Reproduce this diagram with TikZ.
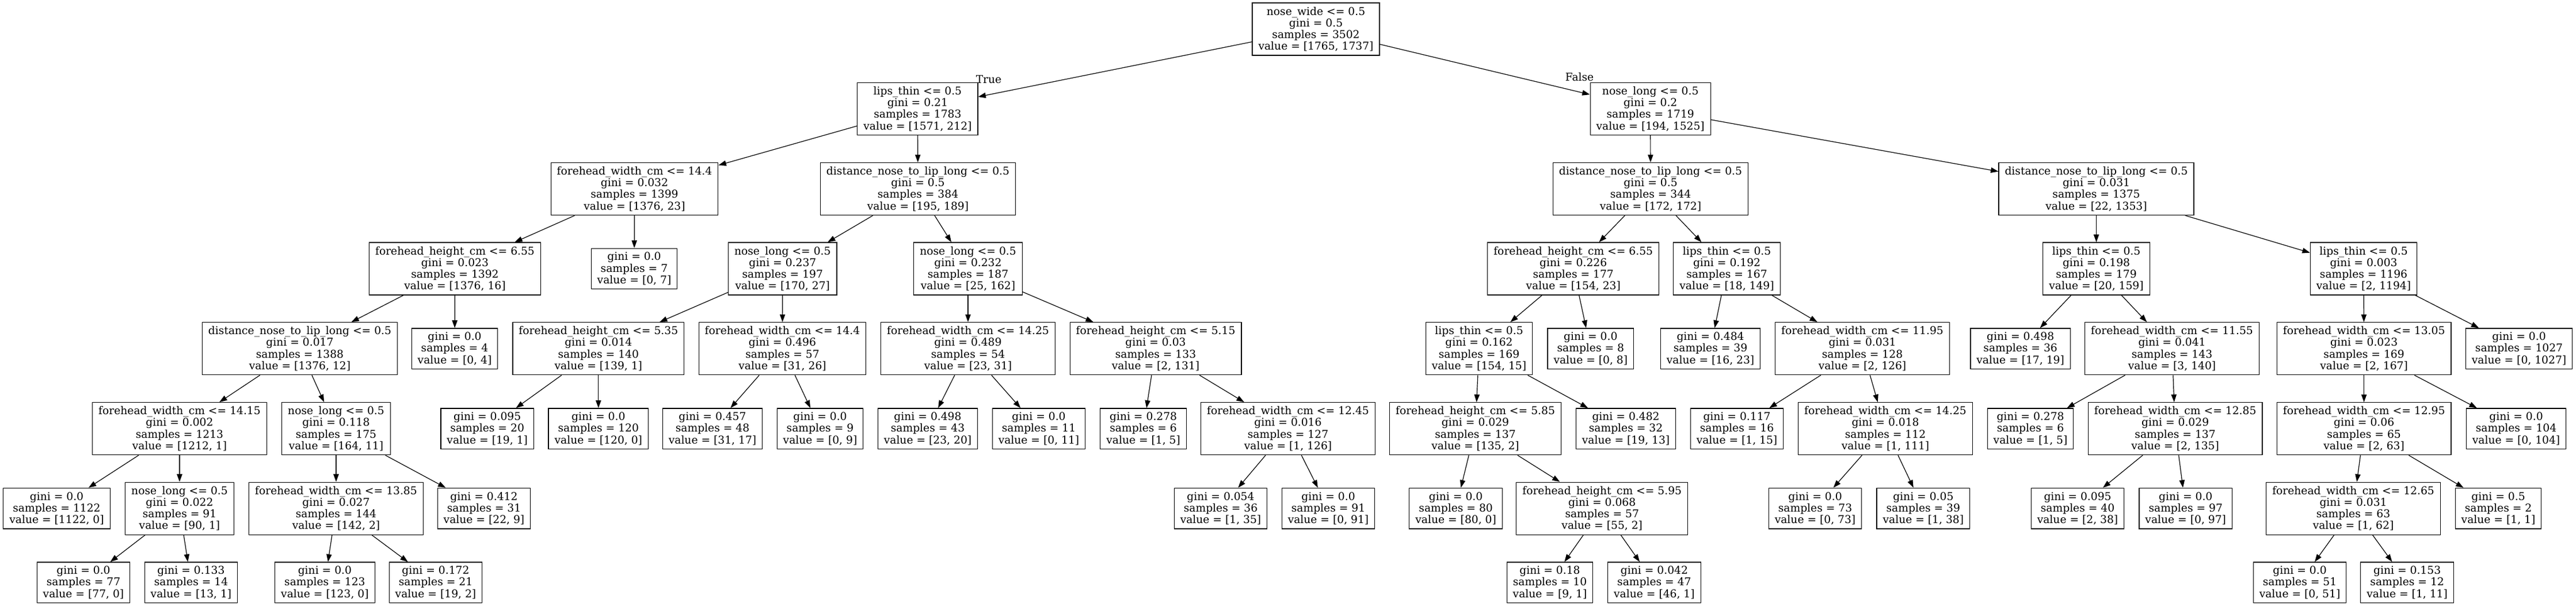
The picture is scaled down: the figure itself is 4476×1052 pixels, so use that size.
\documentclass[tikz,border=0pt]{standalone}
\usepackage{fontspec}
\setmainfont{DejaVu Serif}
\usetikzlibrary{arrows.meta}
\tikzset{
  tnode/.style={draw=black, line width=1.2pt, rectangle, align=center, inner xsep=10.5pt, inner ysep=0pt,
    font=\fontsize{18.7}{20.2}\selectfont},
  split/.style={tnode, minimum height=91pt},
  leaf/.style={tnode, minimum height=70.6pt},
  edge/.style={draw=black, line width=1.2pt, -{Triangle[length=13.3pt,width=9.3pt]}},
  lbl/.style={inner sep=0pt, font=\fontsize{18.7}{20.2}\selectfont}
}
\begin{document}
\begin{tikzpicture}[x=1pt,y=-1pt]
\fill[white] (0,0) rectangle (4476,1052);
\useasboundingbox (0,0) rectangle (4476,1052);
% level 0
\node[split] (r) at (2286.5,50.5) {nose\_wide <= 0.5\\gini = 0.5\\samples = 3502\\value = [1765, 1737]};
% level 1
\node[split] (a) at (1594.4,189) {lips\_thin <= 0.5\\gini = 0.21\\samples = 1783\\value = [1571, 212]};
\node[split] (b) at (2867.7,189) {nose\_long <= 0.5\\gini = 0.2\\samples = 1719\\value = [194, 1525]};
% level 2
\node[split] (aa) at (1102.5,328) {forehead\_width\_cm <= 14.4\\gini = 0.032\\samples = 1399\\value = [1376, 23]};
\node[split] (ab) at (1595,328) {distance\_nose\_to\_lip\_long <= 0.5\\gini = 0.5\\samples = 384\\value = [195, 189]};
\node[split] (ba) at (2868,328) {distance\_nose\_to\_lip\_long <= 0.5\\gini = 0.5\\samples = 344\\value = [172, 172]};
\node[split] (bb) at (3642.5,328) {distance\_nose\_to\_lip\_long <= 0.5\\gini = 0.031\\samples = 1375\\value = [22, 1353]};
% level 3
\node[split] (aaa) at (790.5,466.5) {forehead\_height\_cm <= 6.55\\gini = 0.023\\samples = 1392\\value = [1376, 16]};
\node[leaf] (aab) at (1102,466.5) {gini = 0.0\\samples = 7\\value = [0, 7]};
\node[split] (aba) at (1359.8,466.5) {nose\_long <= 0.5\\gini = 0.237\\samples = 197\\value = [170, 27]};
\node[split] (abb) at (1682,466.5) {nose\_long <= 0.5\\gini = 0.232\\samples = 187\\value = [25, 162]};
\node[split] (baa) at (2733.7,466.5) {forehead\_height\_cm <= 6.55\\gini = 0.226\\samples = 177\\value = [154, 23]};
\node[split] (bab) at (3000.5,466.5) {lips\_thin <= 0.5\\gini = 0.192\\samples = 167\\value = [18, 149]};
\node[split] (bba) at (3642.5,466.5) {lips\_thin <= 0.5\\gini = 0.198\\samples = 179\\value = [20, 159]};
\node[split] (bbb) at (4107,466.5) {lips\_thin <= 0.5\\gini = 0.003\\samples = 1196\\value = [2, 1194]};
% level 4
\node[split] (aaaa) at (521,605.2) {distance\_nose\_to\_lip\_long <= 0.5\\gini = 0.017\\samples = 1388\\value = [1376, 12]};
\node[leaf] (aaab) at (790,605.2) {gini = 0.0\\samples = 4\\value = [0, 4]};
\node[split] (abaa) at (1039.8,605.2) {forehead\_height\_cm <= 5.35\\gini = 0.014\\samples = 140\\value = [139, 1]};
\node[split] (abab) at (1359.5,605.2) {forehead\_width\_cm <= 14.4\\gini = 0.496\\samples = 57\\value = [31, 26]};
\node[split] (abba) at (1682,605.2) {forehead\_width\_cm <= 14.25\\gini = 0.489\\samples = 54\\value = [23, 31]};
\node[split] (abbb) at (2008,605.2) {forehead\_height\_cm <= 5.15\\gini = 0.03\\samples = 133\\value = [2, 131]};
\node[split] (baaa) at (2570,605.2) {lips\_thin <= 0.5\\gini = 0.162\\samples = 169\\value = [154, 15]};
\node[leaf] (baab) at (2763.8,605.2) {gini = 0.0\\samples = 8\\value = [0, 8]};
\node[leaf] (baba) at (2972,605.2) {gini = 0.484\\samples = 39\\value = [16, 23]};
\node[split] (babb) at (3236,605.2) {forehead\_width\_cm <= 11.95\\gini = 0.031\\samples = 128\\value = [2, 126]};
\node[leaf] (bbaa) at (3510.6,605.2) {gini = 0.498\\samples = 36\\value = [17, 19]};
\node[split] (bbab) at (3774,605.2) {forehead\_width\_cm <= 11.55\\gini = 0.041\\samples = 143\\value = [3, 140]};
\node[split] (bbba) at (4107.6,605.2) {forehead\_width\_cm <= 13.05\\gini = 0.023\\samples = 169\\value = [2, 167]};
\node[leaf] (bbbb) at (4377,605.2) {gini = 0.0\\samples = 1027\\value = [0, 1027]};
% level 5
\node[split] (aaaaa) at (312,744.2) {forehead\_width\_cm <= 14.15\\gini = 0.002\\samples = 1213\\value = [1212, 1]};
\node[split] (aaaab) at (584,744.2) {nose\_long <= 0.5\\gini = 0.118\\samples = 175\\value = [164, 11]};
\node[leaf] (abaaa) at (846.7,744.2) {gini = 0.095\\samples = 20\\value = [19, 1]};
\node[leaf] (abaab) at (1039.8,744.2) {gini = 0.0\\samples = 120\\value = [120, 0]};
\node[leaf] (ababa) at (1238,744.2) {gini = 0.457\\samples = 48\\value = [31, 17]};
\node[leaf] (ababb) at (1425,744.2) {gini = 0.0\\samples = 9\\value = [0, 9]};
\node[leaf] (abbaa) at (1612,744.2) {gini = 0.498\\samples = 43\\value = [23, 20]};
\node[leaf] (abbab) at (1805,744.2) {gini = 0.0\\samples = 11\\value = [0, 11]};
\node[leaf] (abbba) at (1986.6,744.2) {gini = 0.278\\samples = 6\\value = [1, 5]};
\node[split] (abbbb) at (2238,744.2) {forehead\_width\_cm <= 12.45\\gini = 0.016\\samples = 127\\value = [1, 126]};
\node[split] (baaaa) at (2563.5,744.2) {forehead\_height\_cm <= 5.85\\gini = 0.029\\samples = 137\\value = [135, 2]};
\node[leaf] (baaab) at (2825,744.2) {gini = 0.482\\samples = 32\\value = [19, 13]};
\node[leaf] (babba) at (3018,744.2) {gini = 0.117\\samples = 16\\value = [1, 15]};
\node[split] (babbb) at (3276,744.2) {forehead\_width\_cm <= 14.25\\gini = 0.018\\samples = 112\\value = [1, 111]};
\node[leaf] (bbaba) at (3528,744.2) {gini = 0.278\\samples = 6\\value = [1, 5]};
\node[split] (bbabb) at (3779.6,744.2) {forehead\_width\_cm <= 12.85\\gini = 0.029\\samples = 137\\value = [2, 135]};
\node[split] (bbbaa) at (4107.6,744.2) {forehead\_width\_cm <= 12.95\\gini = 0.06\\samples = 65\\value = [2, 63]};
\node[leaf] (bbbab) at (4372,744.2) {gini = 0.0\\samples = 104\\value = [0, 104]};
% level 6
\node[leaf] (aaaaaa) at (98.5,882.6) {gini = 0.0\\samples = 1122\\value = [1122, 0]};
\node[split] (aaaaab) at (312,882.6) {nose\_long <= 0.5\\gini = 0.022\\samples = 91\\value = [90, 1]};
\node[split] (aaaaba) at (584,882.6) {forehead\_width\_cm <= 13.85\\gini = 0.027\\samples = 144\\value = [142, 2]};
\node[leaf] (aaaabb) at (841,882.6) {gini = 0.412\\samples = 31\\value = [22, 9]};
\node[leaf] (abbbba) at (2121,882.6) {gini = 0.054\\samples = 36\\value = [1, 35]};
\node[leaf] (abbbbb) at (2308,882.6) {gini = 0.0\\samples = 91\\value = [0, 91]};
\node[leaf] (baaaaa) at (2529.6,882.6) {gini = 0.0\\samples = 80\\value = [80, 0]};
\node[split] (baaaab) at (2783.7,882.6) {forehead\_height\_cm <= 5.95\\gini = 0.068\\samples = 57\\value = [55, 2]};
\node[leaf] (babbba) at (3154,882.6) {gini = 0.0\\samples = 73\\value = [0, 73]};
\node[leaf] (babbbb) at (3341.8,882.6) {gini = 0.05\\samples = 39\\value = [1, 38]};
\node[leaf] (bbabba) at (3610,882.6) {gini = 0.095\\samples = 40\\value = [2, 38]};
\node[leaf] (bbabbb) at (3797.7,882.6) {gini = 0.0\\samples = 97\\value = [0, 97]};
\node[split] (bbbaaa) at (4089,882.6) {forehead\_width\_cm <= 12.65\\gini = 0.031\\samples = 63\\value = [1, 62]};
\node[leaf] (bbbaab) at (4341,882.6) {gini = 0.5\\samples = 2\\value = [1, 1]};
% level 7
\node[leaf] (aaaaaba) at (145,1011.3) {gini = 0.0\\samples = 77\\value = [77, 0]};
\node[leaf] (aaaaabb) at (332,1011.3) {gini = 0.133\\samples = 14\\value = [13, 1]};
\node[leaf] (aaaabaa) at (564.4,1011.3) {gini = 0.0\\samples = 123\\value = [123, 0]};
\node[leaf] (aaaabab) at (757,1011.3) {gini = 0.172\\samples = 21\\value = [19, 2]};
\node[leaf] (baaaaba) at (2693,1011.3) {gini = 0.18\\samples = 10\\value = [9, 1]};
\node[leaf] (baaaabb) at (2874.4,1011.3) {gini = 0.042\\samples = 47\\value = [46, 1]};
\node[leaf] (bbbaaaa) at (3996,1011.3) {gini = 0.0\\samples = 51\\value = [0, 51]};
\node[leaf] (bbbaaab) at (4182.6,1011.3) {gini = 0.153\\samples = 12\\value = [1, 11]};
% labels
\node[lbl] (truelbl) at (1718,137.5) {True};
\node[lbl] (falselbl) at (2744.5,133.5) {False};
% edges
\foreach \p/\c in {r/a, r/b,
  a/aa, a/ab, b/ba, b/bb,
  aa/aaa, aa/aab, ab/aba, ab/abb, ba/baa, ba/bab, bb/bba, bb/bbb,
  aaa/aaaa, aaa/aaab, aba/abaa, aba/abab, abb/abba, abb/abbb, baa/baaa, baa/baab, bab/baba, bab/babb, bba/bbaa, bba/bbab, bbb/bbba, bbb/bbbb,
  aaaa/aaaaa, aaaa/aaaab, abaa/abaaa, abaa/abaab, abab/ababa, abab/ababb, abba/abbaa, abba/abbab, abbb/abbba, abbb/abbbb, baaa/baaaa, baaa/baaab, babb/babba, babb/babbb, bbab/bbaba, bbab/bbabb, bbba/bbbaa, bbba/bbbab,
  aaaaa/aaaaaa, aaaaa/aaaaab, aaaab/aaaaba, aaaab/aaaabb, abbbb/abbbba, abbbb/abbbbb, baaaa/baaaaa, baaaa/baaaab, babbb/babbba, babbb/babbbb, bbabb/bbabba, bbabb/bbabbb, bbbaa/bbbaaa, bbbaa/bbbaab,
  aaaaab/aaaaaba, aaaaab/aaaaabb, aaaaba/aaaabaa, aaaaba/aaaabab, baaaab/baaaaba, baaaab/baaaabb, bbbaaa/bbbaaaa, bbbaaa/bbbaaab}
  {\draw[edge] (\p) -- (\c);}
\end{tikzpicture}
\end{document}
